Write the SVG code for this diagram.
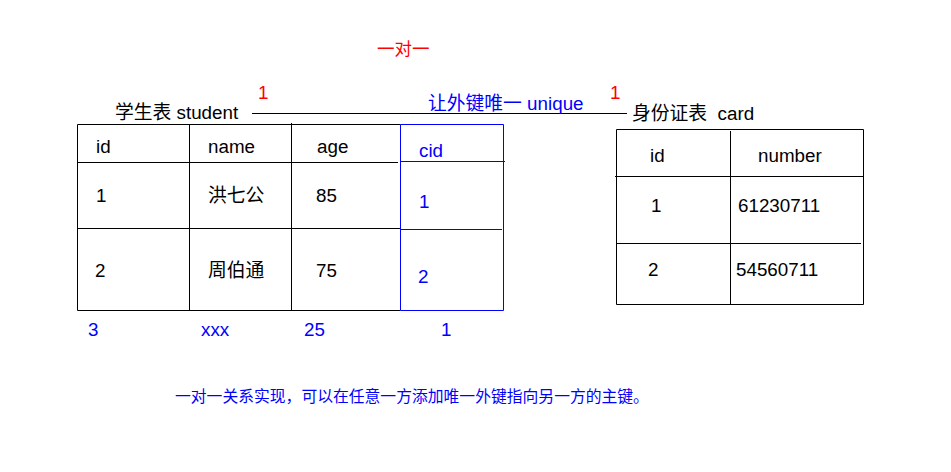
<svg xmlns="http://www.w3.org/2000/svg" width="951" height="472" viewBox="0 0 951 472">
<style>
text{font-family:"Liberation Sans","Noto Sans CJK SC",sans-serif;font-size:18.8px;fill:#000;white-space:pre}
.b{fill:#0000ff}
.r{fill:#ff0000}
.k{stroke:#000;stroke-width:1;fill:none}
.bl{stroke:#0000ff;stroke-width:1;fill:none}
.cap{font-size:15.8px}
</style>
<rect width="951" height="472" fill="#fff"/>
<text id="title" class="r" x="377" y="55" style="font-size:17.5px">一对一</text>
<g id="connectors">
<line class="k" x1="252" y1="113.5" x2="627" y2="113.5"/>
<text class="r" x="258" y="99">1</text>
<text class="r" x="610" y="99">1</text>
<text class="b" x="428" y="110">让外键唯一 unique</text>
</g>
<g id="student">
<text x="115" y="119">学生表 student</text>
<path class="k" d="M77.5 124.5H400.5M77.5 124.5V310.5H400.5M189.5 124.5V310.5M291.5 123V310.5M77.5 162.5H398M77.5 228.5H400"/>
<path class="bl" d="M400.5 124.5H503.5V310.5H400.5ZM400.5 161.5H505M400.5 229.5H502"/>
<text x="96" y="153">id</text>
<text x="208" y="153">name</text>
<text x="317" y="153">age</text>
<text class="b" x="419" y="157">cid</text>
<text x="96" y="202">1</text>
<text x="208" y="202">洪七公</text>
<text x="316" y="202">85</text>
<text class="b" x="419" y="208">1</text>
<text x="95" y="277">2</text>
<text x="208" y="277">周伯通</text>
<text x="316" y="277">75</text>
<text class="b" x="418" y="283">2</text>
<text class="b" x="88" y="336">3</text>
<text class="b" x="201" y="336">xxx</text>
<text class="b" x="304" y="336">25</text>
<text class="b" x="441" y="336">1</text>
</g>
<g id="card">
<text x="632" y="120">身份证表  card</text>
<path class="k" d="M616.5 129.5H863.5V304.5H616.5ZM730.5 131V304.5M615 176.5H864M616.5 243.5H861"/>
<text x="650" y="162">id</text>
<text x="758" y="162">number</text>
<text x="651" y="212">1</text>
<text x="738" y="212">61230711</text>
<text x="648" y="276">2</text>
<text x="736" y="276">54560711</text>
</g>
<text id="note" class="b cap" x="175" y="402">一对一关系实现，可以在任意一方添加唯一外键指向另一方的主键。</text>
</svg>
